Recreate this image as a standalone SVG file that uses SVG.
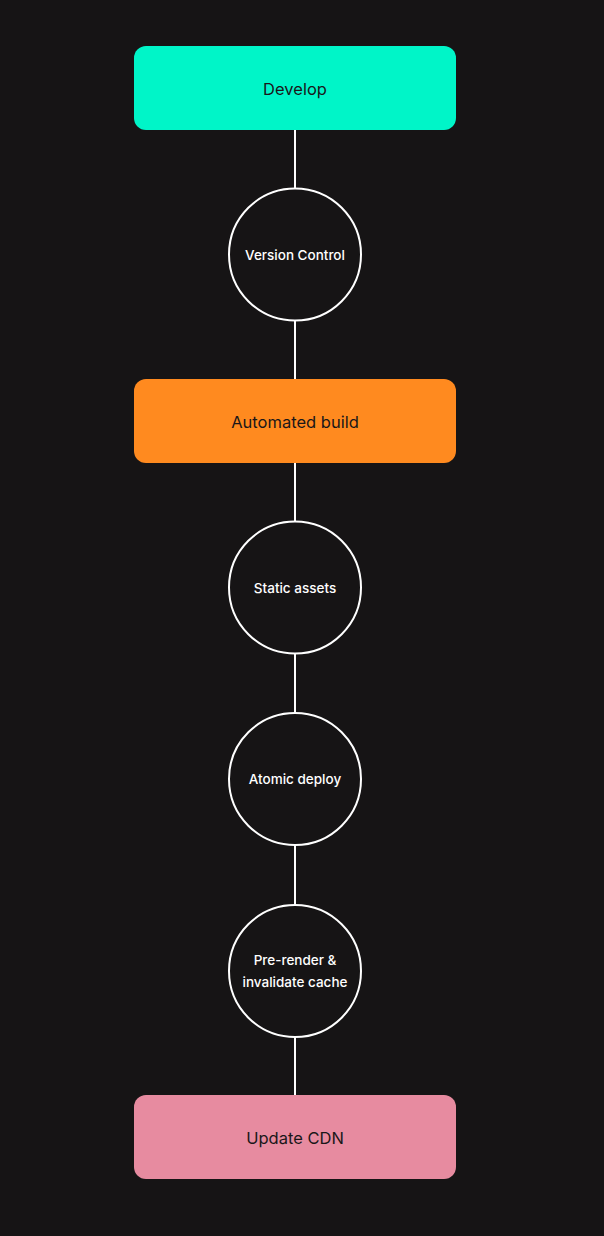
<svg xmlns="http://www.w3.org/2000/svg" width="604" height="1236" viewBox="0 0 604 1236">
<style>
.box-t{font-family:Inter,"Noto Sans","Liberation Sans",sans-serif;font-size:16.5px;fill:#1a1719;text-anchor:middle;dominant-baseline:central}
.c{fill:#161415;stroke:#ffffff;stroke-width:2}
.c-t{font-family:Inter,"Noto Sans","Liberation Sans",sans-serif;font-size:13.5px;font-weight:500;fill:#ffffff;text-anchor:middle;dominant-baseline:central}
.edge{stroke:#ffffff;stroke-width:2;fill:none}
</style>
<rect width="604" height="1236" fill="#161415"/>
<g id="connectors">
<line class="edge" x1="295" y1="130" x2="295" y2="188"/>
<line class="edge" x1="295" y1="321" x2="295" y2="379"/>
<line class="edge" x1="295" y1="463" x2="295" y2="521"/>
<line class="edge" x1="295" y1="654" x2="295" y2="713"/>
<line class="edge" x1="295" y1="845" x2="295" y2="905"/>
<line class="edge" x1="295" y1="1037" x2="295" y2="1095"/>
</g>
<g id="develop">
<rect x="134" y="46" width="322" height="84" rx="12" fill="#00f5c8"/>
<text class="box-t" x="295" y="89">Develop</text>
</g>
<g id="version-control">
<circle class="c" cx="295" cy="254.5" r="66"/>
<text class="c-t" x="295" y="255">Version Control</text>
</g>
<g id="automated-build">
<rect x="134" y="379" width="322" height="84" rx="12" fill="#ff8a1f"/>
<text class="box-t" x="295" y="422">Automated build</text>
</g>
<g id="static-assets">
<circle class="c" cx="295" cy="587.5" r="66"/>
<text class="c-t" x="295" y="588">Static assets</text>
</g>
<g id="atomic-deploy">
<circle class="c" cx="295" cy="779" r="66"/>
<text class="c-t" x="295" y="779">Atomic deploy</text>
</g>
<g id="pre-render">
<circle class="c" cx="295" cy="971" r="66"/>
<text class="c-t" x="295" y="960">Pre-render &amp;</text>
<text class="c-t" x="295" y="982">invalidate cache</text>
</g>
<g id="update-cdn">
<rect x="134" y="1095" width="322" height="84" rx="12" fill="#e78ba0"/>
<text class="box-t" x="295" y="1138">Update CDN</text>
</g>
</svg>
